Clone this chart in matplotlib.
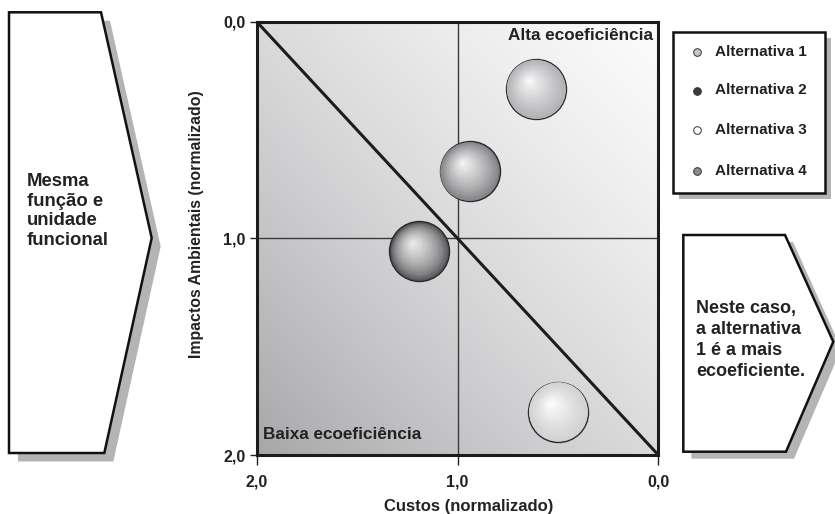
import numpy as np
import matplotlib
matplotlib.use("Agg")
import matplotlib.pyplot as plt
from matplotlib.patches import Polygon, Rectangle
from matplotlib.transforms import offset_copy
from matplotlib.colors import to_rgb

plt.rcParams['font.family'] = ['Liberation Sans', 'DejaVu Sans']

# ---------------- data ----------------
alternatives = ['Alternativa 1', 'Alternativa 2', 'Alternativa 3', 'Alternativa 4']
custos = [0.61, 1.19, 0.50, 0.94]          # x (normalizado)
impactos = [0.31, 1.06, 1.80, 0.69]        # y (normalizado)
legend_colors = ['#c4c4c6', '#3c3c3e', '#ffffff', '#8c8c8e']
rim_colors = ['#b2b2b6', '#3a3a3e', '#d2d2d4', '#7e7e82']
light_colors = ['#fbfbfb', '#eeeeee', '#ffffff', '#f6f6f6']
shade_power = [0.9, 1.8, 0.8, 1.2]
tick_values = [2.0, 1.0, 0.0]
tick_labels = ['2,0', '1,0', '0,0']

TXT = '#222222'
W, H = 835, 514
fig = plt.figure(figsize=(W / 100, H / 100), dpi=100)

# overlay axes in pixel coordinates (y downwards)
ov = fig.add_axes([0, 0, 1, 1], zorder=0)
ov.set_xlim(0, W)
ov.set_ylim(H, 0)
ov.axis('off')

# ---------------- main axes ----------------
L, R, T, B = 256.7, 658.3, 21.7, 455.0
ax = fig.add_axes([L / W, (H - B) / H, (R - L) / W, (B - T) / H], zorder=1)

ny, nx = 200, 200
yy, xx = np.mgrid[0:ny, 0:nx]
xf = xx / (nx - 1)
yf = 1 - yy / (ny - 1)
u = (xf + yf) / 2
v = 0.655 + 0.47 * u - 0.135 * u ** 2
v = np.clip(v, 0, 1)
img = np.dstack([v, v, v + 0.012 * (1 - u)])
img = np.clip(img, 0, 1)
ax.imshow(img, extent=(2, 0, 2, 0), origin='upper', aspect='auto', zorder=0,
          interpolation='bilinear')
ax.set_xlim(2, 0)
ax.set_ylim(2, 0)

ax.axvline(1.0, color='#3a3a3a', lw=1.0, zorder=1)
ax.axhline(1.0, color='#3a3a3a', lw=1.0, zorder=1)
ax.plot([2, 0], [0, 2], color='#1c1c1c', lw=2.2, zorder=2, solid_capstyle='butt')

for s in ax.spines.values():
    s.set_linewidth(2.2)
    s.set_color('#1c1c1c')
    s.set_zorder(6)

ax.set_xticks(tick_values)
ax.set_xticklabels(tick_labels)
ax.set_yticks(tick_values)
ax.set_yticklabels(tick_labels)
ax.tick_params(axis='both', direction='out', width=1.0, color='#222222',
               labelsize=11.5, labelcolor=TXT)
ax.tick_params(axis='x', length=7, pad=7)
ax.tick_params(axis='y', length=5, pad=3)
for lab in ax.get_xticklabels() + ax.get_yticklabels():
    lab.set_fontweight('bold')


def mix(c1, c2, t):
    a = np.array(to_rgb(c1))
    b = np.array(to_rgb(c2))
    return tuple(a + (b - a) * t)


# ---------------- spheres ----------------
R_PT = 21.6
hx, hy = -0.25 * R_PT, 0.30 * R_PT
n_layers = 45
for x, y, rim, lt, p in zip(custos, impactos, rim_colors, light_colors, shade_power):
    ax.scatter([x], [y], s=(2 * R_PT) ** 2, c=[rim], edgecolors='#2a2a2a',
               linewidths=1.0, zorder=5)
    for i in range(1, n_layers):
        t = i / n_layers
        r = R_PT * (1 - t)
        tr = offset_copy(ax.transData, fig=fig, x=hx * t, y=hy * t, units='points')
        col = mix(rim, lt, t ** (1.0 / p))
        ax.scatter([x], [y], s=(2 * r) ** 2, c=[col], linewidths=0,
                   transform=tr, zorder=5)

ax.text(0.026, 0.066, 'Alta ecoeficiência', ha='right', va='center',
        fontsize=12.3, fontweight='bold', color=TXT, zorder=7)
ax.text(1.97, 1.907, 'Baixa ecoeficiência', ha='left', va='center',
        fontsize=12.3, fontweight='bold', color=TXT, zorder=7)

# axis labels
fig.text(469 / W, 1 - 506 / H, 'Custos (normalizado)', ha='center', va='center',
         fontsize=12, fontweight='bold', color=TXT)
fig.text(196 / W, 1 - 224 / H, 'Impactos Ambientais (normalizado)', ha='center',
         va='center', rotation=90, fontsize=11.4, fontweight='bold', color=TXT)

# ---------------- arrows ----------------
def arrow(pts, off=(9, 8.5)):
    sh = [(px + off[0], py + off[1]) for px, py in pts]
    ov.add_patch(Polygon(sh, closed=True, facecolor='#b4b4b6', edgecolor='none'))
    ov.add_patch(Polygon(pts, closed=True, facecolor='white', edgecolor='#111111',
                         lw=1.8, joinstyle='miter'))

arrow([(9, 12.3), (101, 12.3), (151.7, 238), (104.3, 453), (9, 453)])
arrow([(683.3, 235), (785, 235), (833.3, 341.7), (786, 451.7), (683.3, 451.7)], off=(8, 7))

ov.text(27, 211, 'Mesma\nfunção e\nunidade\nfuncional', ha='left', va='center',
        fontsize=13.3, fontweight='bold', color=TXT, linespacing=1.22)
ov.text(696, 340, 'Neste caso,\na alternativa\n1 é a mais\necoeficiente.',
        ha='left', va='center', fontsize=13, fontweight='bold', color=TXT,
        linespacing=1.33)

# ---------------- legend ----------------
lx0, ly0, lx1, ly1 = 673.3, 31.7, 825, 193.3
ov.add_patch(Rectangle((lx0 + 6, ly0 + 6), lx1 - lx0, ly1 - ly0, facecolor='#b4b4b6',
                       edgecolor='none'))
ov.add_patch(Rectangle((lx0, ly0), lx1 - lx0, ly1 - ly0, facecolor='white',
                       edgecolor='#111111', lw=1.8))
leg_y = [51.7, 90.5, 130.0, 171.0]
for name, col, yy_ in zip(alternatives, legend_colors, leg_y):
    ov.plot([696.7], [yy_], marker='o', markersize=5.5, markerfacecolor=col,
            markeredgecolor='#333333', markeredgewidth=0.7, linestyle='none')
    ov.text(715, yy_, name, ha='left', va='center', fontsize=11, fontweight='bold',
            color=TXT)

fig.savefig('out.png', dpi=100)
